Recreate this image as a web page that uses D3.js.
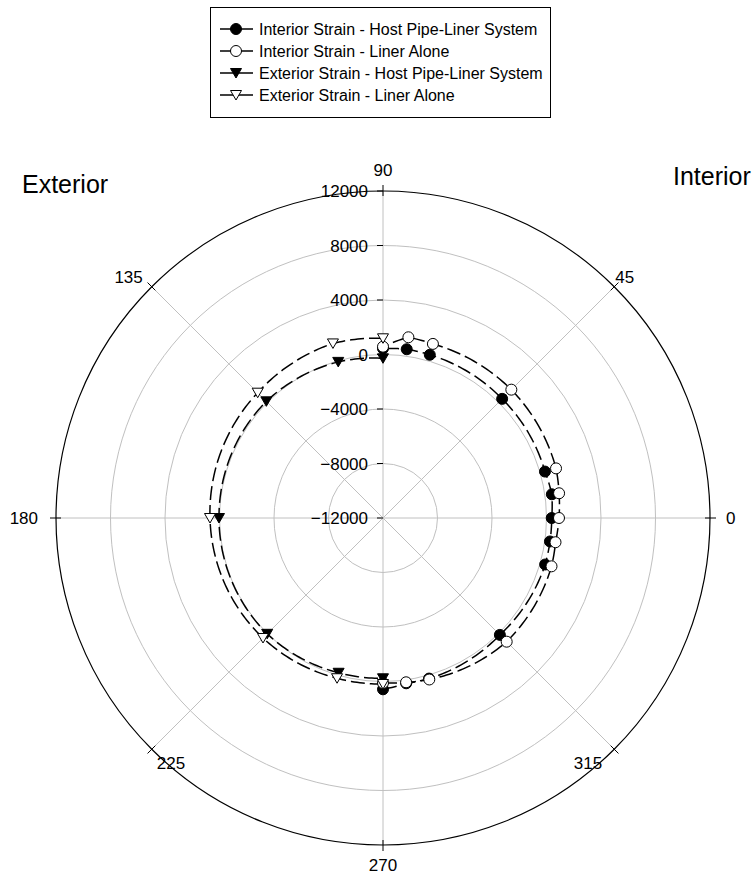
<!DOCTYPE html>
<html>
<head>
<meta charset="utf-8">
<script src="https://cdn.jsdelivr.net/npm/d3@7"></script>
<style>
  body { margin: 0; background: #fff; }
  svg { display: block; font-family: "Liberation Sans", Arial, sans-serif; }
</style>
</head>
<body>
<svg id="chart" width="756" height="881"></svg>
<script>
// Strain around the pipe circumference (microstrain), by gauge angle in degrees
const interiorAngles = [-90, -82, -74, -45, -16, -8, 0, 8, 16, 45, 74, 82, 90];
const interiorHost   = [573, 250, 260, 132, 382, 375, 382, 514, 367, 367, 463, 506, 440];
const interiorLiner  = [110, 176, 330, 837, 866, 785, 917, 1050, 1211, 1321, 1292, 1394, 573];

const exteriorAngles = [90, 106, 135, 180, 225, 254, 270];
const exteriorHost   = [-279, -80, 110, 37, 22, -183, -235];
const exteriorLiner  = [1189, 1329, 1006, 697, 455, 235, 183];

const radialTicks = [-12000, -8000, -4000, 0, 4000, 8000, 12000];
const angleTicks  = [0, 45, 90, 135, 180, 225, 270, 315];

const seriesNames = [
  "Interior Strain - Host Pipe-Liner System",
  "Interior Strain - Liner Alone",
  "Exterior Strain - Host Pipe-Liner System",
  "Exterior Strain - Liner Alone"
];

const svg = d3.select("#chart");
const cx = 383, cy = 518, R = 327;
const rScale = d3.scaleLinear().domain([-12000, 12000]).range([0, R]);
const toRad = d => d * Math.PI / 180;
const px = (a, r) => cx + r * Math.cos(toRad(a));
const py = (a, r) => cy - r * Math.sin(toRad(a));

const GRID = "#c0c0c0";

// grid circles
const g = svg.append("g");
g.selectAll("circle.grid")
  .data(radialTicks.filter(v => v > -12000 && v < 12000))
  .join("circle")
  .attr("cx", cx).attr("cy", cy)
  .attr("r", d => rScale(d))
  .attr("fill", "none").attr("stroke", GRID).attr("stroke-width", 1);

// spokes
g.selectAll("line.spoke")
  .data(angleTicks)
  .join("line")
  .attr("x1", cx).attr("y1", cy)
  .attr("x2", d => px(d, R)).attr("y2", d => py(d, R))
  .attr("stroke", GRID).attr("stroke-width", 1);

// outer ring
g.append("circle")
  .attr("cx", cx).attr("cy", cy).attr("r", R)
  .attr("fill", "none").attr("stroke", "#000").attr("stroke-width", 1.2);

// angular ticks across the outer ring
g.selectAll("line.atick")
  .data(angleTicks)
  .join("line")
  .attr("x1", d => px(d, R - 5)).attr("y1", d => py(d, R - 5))
  .attr("x2", d => px(d, R + 6)).attr("y2", d => py(d, R + 6))
  .attr("stroke", "#000").attr("stroke-width", 1);

// radial axis along the 90° spoke
g.selectAll("line.rtick")
  .data(radialTicks)
  .join("line")
  .attr("x1", cx - 6).attr("x2", cx)
  .attr("y1", d => cy - rScale(d)).attr("y2", d => cy - rScale(d))
  .attr("stroke", "#000").attr("stroke-width", 1);

g.selectAll("text.rlabel")
  .data(radialTicks)
  .join("text")
  .attr("x", cx - 15)
  .attr("y", d => cy - rScale(d))
  .attr("dy", "0.36em")
  .attr("text-anchor", "end")
  .attr("font-size", 17)
  .text(d => d3.format("d")(d));

// angle labels
const angleLabelPos = {
  0:   {x: cx + R + 16, y: cy, anchor: "start", dy: "0.36em"},
  180: {x: cx - R - 18, y: cy, anchor: "end", dy: "0.36em"},
  90:  {x: cx, y: cy - R - 15, anchor: "middle", dy: "0"},
  270: {x: cx, y: cy + R + 14, anchor: "middle", dy: "0.72em"},
  45:  {x: px(45, R) + 1, y: py(45, R) - 4, anchor: "start", dy: "0"},
  135: {x: px(135, R) - 9, y: py(135, R) - 4, anchor: "end", dy: "0"},
  225: {x: px(225, R) + 5, y: py(225, R) + 8, anchor: "start", dy: "0.72em"},
  315: {x: px(315, R) - 12, y: py(315, R) + 8, anchor: "end", dy: "0.72em"}
};
g.selectAll("text.alabel")
  .data(angleTicks)
  .join("text")
  .attr("x", d => angleLabelPos[d].x)
  .attr("y", d => angleLabelPos[d].y)
  .attr("dy", d => angleLabelPos[d].dy)
  .attr("text-anchor", d => angleLabelPos[d].anchor)
  .attr("font-size", 17)
  .text(d => d);

// side captions
svg.append("text").attr("x", 22).attr("y", 193).attr("font-size", 25).text("Exterior");
svg.append("text").attr("x", 673).attr("y", 185).attr("font-size", 25).text("Interior");

// series
const series = [
  {angles: interiorAngles, values: interiorHost,  shape: "circle",   fill: "#000"},
  {angles: interiorAngles, values: interiorLiner, shape: "circle",   fill: "#fff"},
  {angles: exteriorAngles, values: exteriorHost,  shape: "triangle", fill: "#000"},
  {angles: exteriorAngles, values: exteriorLiner, shape: "triangle", fill: "#fff"}
];
series.forEach(s => { s.pts = s.angles.map((a, i) => ({a, v: s.values[i]})); });

// polar segment: radius varies linearly with angle between gauges
function polarPath(pts) {
  const out = [];
  for (let i = 0; i < pts.length - 1; i++) {
    const p0 = pts[i], p1 = pts[i + 1];
    const n = Math.max(2, Math.ceil(Math.abs(p1.a - p0.a)));
    for (let k = (i === 0 ? 0 : 1); k <= n; k++) {
      const t = k / n;
      const a = p0.a + (p1.a - p0.a) * t;
      const r = rScale(p0.v) + (rScale(p1.v) - rScale(p0.v)) * t;
      out.push([px(a, r), py(a, r)]);
    }
  }
  return d3.line()(out);
}

const lines = svg.append("g");
series.forEach(s => {
  lines.append("path")
    .attr("d", polarPath(s.pts))
    .attr("fill", "none")
    .attr("stroke", "#000")
    .attr("stroke-width", 1.5)
    .attr("stroke-dasharray", "14,5");
});

const triPath = "M-5.5,-4.5L5.5,-4.5L0,5Z";
function drawMarker(sel, shape, fill) {
  if (shape === "circle") {
    sel.append("circle").attr("r", 5.5)
      .attr("fill", fill).attr("stroke", "#000").attr("stroke-width", 1);
  } else {
    sel.append("path").attr("d", triPath)
      .attr("fill", fill).attr("stroke", "#000").attr("stroke-width", 1);
  }
}

const marks = svg.append("g");
series.forEach(s => {
  const grp = marks.append("g");
  s.pts.forEach(p => {
    const r = rScale(p.v);
    const m = grp.append("g").attr("transform", `translate(${px(p.a, r)},${py(p.a, r)})`);
    drawMarker(m, s.shape, s.fill);
  });
});

// legend
const legend = svg.append("g");
legend.append("rect")
  .attr("x", 210.5).attr("y", 7.5).attr("width", 340).attr("height", 110)
  .attr("fill", "#fff").attr("stroke", "#000").attr("stroke-width", 1);
const rowY = d3.scalePoint().domain(d3.range(4)).range([29, 95]);
series.forEach((s, i) => {
  const y = rowY(i);
  legend.append("line")
    .attr("x1", 220).attr("x2", 253).attr("y1", y).attr("y2", y)
    .attr("stroke", "#000").attr("stroke-width", 1.5);
  drawMarker(legend.append("g").attr("transform", `translate(236,${y})`), s.shape, s.fill);
  legend.append("text")
    .attr("x", 259).attr("y", y).attr("dy", "0.36em")
    .attr("font-size", 16)
    .text(seriesNames[i]);
});
</script>
</body>
</html>
